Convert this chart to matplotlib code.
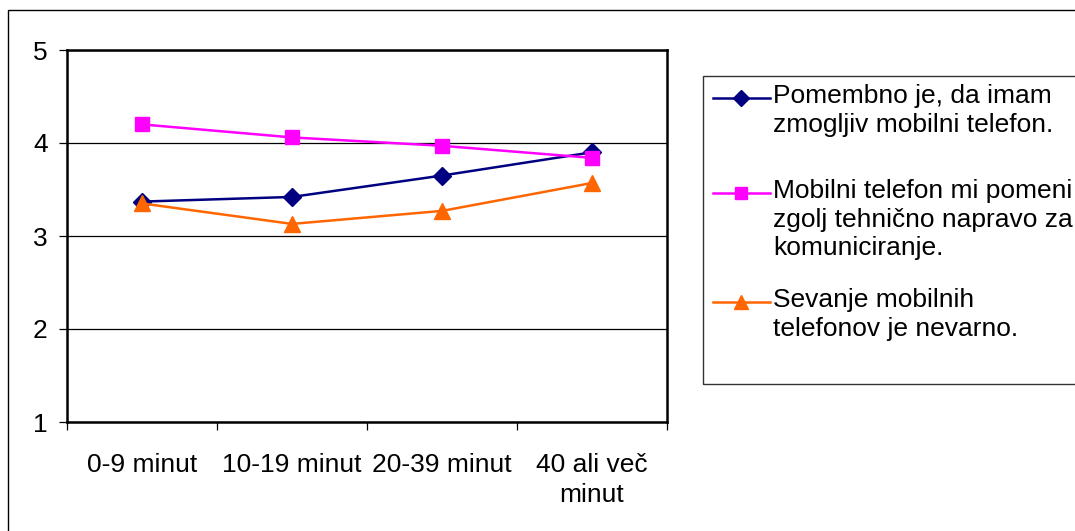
import numpy as np
import matplotlib
matplotlib.use("Agg")
import matplotlib.pyplot as plt
from matplotlib.patches import Rectangle
from matplotlib.lines import Line2D

categories = ["0-9 minut", "10-19 minut", "20-39 minut", "40 ali več\nminut"]
pomembno = [3.37, 3.42, 3.65, 3.90]
pomeni = [4.20, 4.06, 3.97, 3.84]
sevanje = [3.35, 3.13, 3.27, 3.57]
series_names = ["Pomembno je, da imam\nzmogljiv mobilni telefon.",
                "Mobilni telefon mi pomeni\nzgolj tehnično napravo za\nkomuniciranje.",
                "Sevanje mobilnih\ntelefonov je nevarno."]

plt.rcParams["font.family"] = ["Liberation Sans", "DejaVu Sans"]
FS = 19

W, H = 1075, 531
fig = plt.figure(figsize=(W / 100, H / 100), dpi=100)

def fx(px):
    return px / W

def fy(py):
    return 1 - py / H

# outer chart frame
fig.patches.append(Rectangle((fx(8), -0.1), 1.2, fy(10) + 0.1, transform=fig.transFigure,
                             fill=False, edgecolor="black", linewidth=1.0))

ax = fig.add_axes([fx(67), fy(422), fx(667) - fx(67), fy(50) - fy(422)])
x = np.arange(len(categories))

styles = [
    (pomembno, "#000080", "D", 9),
    (pomeni, "#FF00FF", "s", 10),
    (sevanje, "#FF6600", "^", 11),
]
for vals, col, mk, ms in styles:
    ax.plot(x, vals, color=col, marker=mk, markersize=ms, linewidth=1.8,
            markeredgecolor=col, zorder=3)

ax.set_xlim(-0.5, len(categories) - 0.5)
ax.set_ylim(1, 5)
ax.set_yticks([1, 2, 3, 4, 5])
ax.yaxis.grid(True, color="black", linewidth=0.9)
ax.set_axisbelow(True)
ax.set_xticks(x)
ax.set_xticklabels(categories, fontsize=FS, linespacing=1.35)
ax.set_xticks(np.arange(-0.5, len(categories), 1.0), minor=True)
ax.tick_params(axis="x", which="major", length=0, pad=22)
ax.tick_params(axis="x", which="minor", length=6, direction="out", width=0.9)
ax.tick_params(axis="y", length=6, direction="out", width=0.9, labelsize=FS, pad=8)
for s in ax.spines.values():
    s.set_linewidth(1.8)
    s.set_color("black")

# legend box
fig.patches.append(Rectangle((fx(703), fy(384)), 1.0, fy(76) - fy(384), transform=fig.transFigure,
                             fill=False, edgecolor="#333333", linewidth=1.0))
entry_y = [98, 193, 302]
for (vals, col, mk, ms), name, yy in zip(styles, series_names, entry_y):
    fig.add_artist(Line2D([fx(713), fx(770)], [fy(yy), fy(yy)], transform=fig.transFigure,
                          color=col, linewidth=1.8))
    fig.add_artist(Line2D([fx(741)], [fy(yy)], transform=fig.transFigure, color=col,
                          marker=mk, markersize=ms - 1, markeredgecolor=col))
    fig.text(fx(773), fy(yy - 14), name, fontsize=FS, va="top", ha="left", linespacing=1.25)

fig.savefig("out.png", dpi=100)
